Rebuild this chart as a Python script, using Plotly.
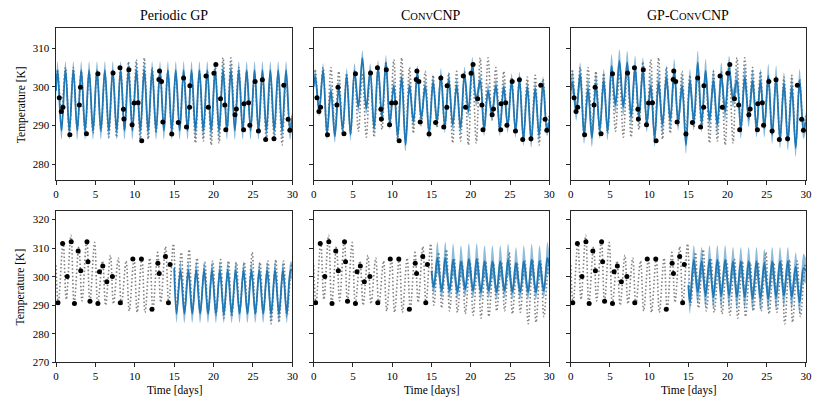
import plotly.graph_objects as go

# ---------------- data ----------------
n_days = 30
second_half_start = 15

# ---- top row: fully observed-context task ----
top_ctx_t = [0.42, 0.67, 0.88, 1.76, 2.96, 3.10, 3.86, 5.32, 7.24, 8.12, 8.56, 8.62, 9.25, 9.66, 9.92,
             10.42, 10.88, 13.06, 13.14, 13.39, 13.56, 14.69, 15.52, 16.19, 16.56, 16.99, 16.95, 19.04,
             19.33, 20.04, 20.29, 20.88, 21.42, 21.55, 22.72, 22.89, 23.81, 23.86, 24.44, 24.60, 25.27,
             25.69, 26.19, 26.61, 27.66, 28.91, 29.46, 29.68]
top_ctx_y = [297.2, 293.6, 294.7, 287.6, 295.3, 299.9, 287.9, 303.4, 303.6, 304.9, 294.2, 291.7, 304.4,
             290.2, 295.8, 295.9, 286.1, 301.9, 304.1, 301.4, 290.9, 287.8, 290.8, 302.3, 289.6, 300.3,
             294.7, 302.8, 294.7, 303.5, 305.8, 296.9, 295.3, 288.9, 292.8, 294.3, 288.9, 295.6, 295.9,
             290.1, 301.4, 288.6, 301.8, 286.4, 286.6, 300.4, 291.6, 288.8]

# truth: daily maxima (at day+0.2) and minima (at day+0.7)
top_truth_start, top_truth_end = 300.0, 293.0
top_truth_peaks = [304.5, 305.0, 305.0, 304.0, 303.5, 304.0, 303.5, 304.0, 305.0, 306.5, 307.0, 307.5,
                   305.0, 304.5, 304.0, 303.0, 303.0, 303.5, 304.0, 304.0, 306.0, 307.5, 307.5, 305.0,
                   304.0, 302.5, 302.5, 302.5, 303.0, 302.0]
top_truth_troughs = [293.5, 287.5, 289.0, 288.0, 288.0, 288.5, 287.0, 287.0, 289.0, 289.5, 286.0, 286.5,
                     288.0, 290.0, 287.5, 289.5, 289.0, 285.5, 286.0, 285.0, 285.5, 288.5, 291.5, 288.5,
                     290.0, 288.5, 286.3, 286.5, 285.0, 288.5]

# Periodic GP (top)
pgp_top_start, pgp_top_end = 299.0, 292.0
pgp_top_peaks = [304.3, 304.3, 304.3, 304.3, 304.3, 304.3, 304.3, 304.3, 304.3, 304.3, 304.3, 304.3,
                 304.3, 304.3, 304.3, 304.3, 304.3, 304.3, 304.3, 304.3, 304.3, 304.3, 304.3, 304.3,
                 304.3, 304.3, 304.3, 304.3, 304.3, 304.3]
pgp_top_troughs = [288.7, 288.7, 288.7, 288.7, 288.7, 288.7, 288.7, 288.7, 288.7, 288.7, 288.7, 288.7,
                   288.7, 288.7, 288.7, 288.7, 288.7, 288.7, 288.7, 288.7, 288.7, 288.7, 288.7, 288.7,
                   288.7, 288.7, 288.7, 288.7, 288.7, 288.7]
pgp_top_std = (2.3, 2.3)

# ConvCNP (top)
cnp_top_start, cnp_top_end = 300.3, 291.0
cnp_top_peaks = [302.7, 304.2, 299.0, 299.7, 302.9, 304.2, 307.5, 304.2, 305.0, 306.3, 300.3, 302.5,
                 300.3, 303.7, 300.2, 301.2, 302.9, 302.0, 300.3, 303.3, 305.8, 301.6, 299.0, 300.3,
                 300.0, 301.6, 302.0, 300.0, 299.5, 300.8]
cnp_top_troughs = [294.0, 288.0, 287.2, 288.9, 287.6, 294.8, 294.4, 289.3, 292.3, 290.6, 287.2, 285.0,
                   291.0, 291.9, 288.0, 291.0, 289.7, 290.2, 289.3, 293.6, 296.5, 288.9, 292.7, 288.9,
                   289.7, 288.5, 286.4, 285.9, 287.6, 288.9]
cnp_top_std = (1.9, 1.6)

# GP-ConvCNP (top)
gpc_top_start, gpc_top_end = 299.0, 291.0
gpc_top_peaks = [301.2, 303.3, 299.5, 300.8, 301.6, 305.4, 306.7, 306.3, 305.0, 304.6, 300.3, 301.2,
                 302.5, 304.2, 300.3, 301.6, 306.3, 304.2, 301.6, 303.3, 305.0, 301.6, 302.5, 301.6,
                 301.6, 302.9, 302.5, 300.8, 300.0, 301.6]
gpc_top_troughs = [293.6, 287.6, 286.8, 288.9, 288.5, 295.3, 294.8, 292.3, 292.3, 290.6, 286.8, 290.2,
                   291.4, 291.0, 285.0, 291.0, 290.6, 291.4, 290.2, 293.6, 297.0, 288.9, 291.9, 289.3,
                   289.3, 287.6, 286.4, 285.9, 284.2, 288.9]
gpc_top_std = (3.0, 2.3)

# ---- bottom row: extrapolation task (context only on first 15 days) ----
bot_ctx_t = [0.25, 0.84, 1.42, 1.93, 2.34, 2.81, 3.14, 3.93, 4.06, 4.31, 5.32, 5.52, 5.94, 6.45, 7.16,
             8.16, 9.75, 10.84, 12.18, 12.93, 13.10, 13.89, 14.27, 14.48]
bot_ctx_y = [290.9, 311.6, 300.1, 312.2, 290.6, 309.0, 302.1, 312.2, 305.2, 291.4, 290.6, 301.7, 303.7,
             298.2, 300.1, 290.9, 306.2, 306.2, 288.6, 304.7, 301.1, 307.1, 290.9, 304.3]

# truth: daily minima (at day+0.3) and maxima (at day+0.9)
bot_truth_start, bot_truth_end = 304.0, 303.0
bot_truth_troughs = [290.5, 292.0, 290.3, 291.5, 291.0, 290.3, 290.0, 290.5, 290.0, 288.0, 287.5, 287.5,
                     288.5, 291.0, 290.5, 290.0, 289.0, 288.0, 287.5, 287.0, 286.5, 285.5, 286.0, 288.0,
                     288.0, 287.0, 287.5, 283.5, 284.0, 286.0]
bot_truth_peaks = [312.0, 314.5, 310.5, 313.0, 312.0, 305.5, 307.5, 306.5, 305.5, 306.5, 306.5, 306.5,
                   308.5, 310.5, 311.5, 308.5, 309.5, 306.5, 305.0, 305.5, 306.0, 305.5, 305.0, 305.0,
                   308.5, 305.0, 305.5, 306.0, 305.5, 304.5]

# Periodic GP (bottom, days 15-30): minima at day+0.3, maxima at day+0.8
pgp_bot_start, pgp_bot_end = 303.0, 302.0
pgp_bot_troughs = [287.0, 287.0, 287.0, 287.0, 287.0, 287.0, 287.0, 287.0, 287.0, 287.0, 287.0, 287.0,
                   287.0, 287.0, 287.0]
pgp_bot_peaks = [302.3, 302.3, 302.3, 302.3, 302.3, 302.3, 302.3, 302.3, 302.3, 302.3, 302.3, 302.3,
                 302.3, 302.3, 302.3]
pgp_bot_std = (3.1, 3.1)

# ConvCNP (bottom): minima at day+0.3, maxima at day+0.75
cnp_bot_start, cnp_bot_end = 302.0, 304.0
cnp_bot_troughs = [296.2, 295.0, 295.0, 294.5, 295.5, 295.0, 294.5, 295.0, 294.5, 295.0, 294.5, 294.5,
                   294.5, 294.5, 295.0]
cnp_bot_peaks = [306.6, 306.6, 306.0, 305.4, 306.2, 306.2, 305.4, 305.4, 305.4, 306.0, 304.8, 305.4,
                 306.0, 305.4, 306.6]
cnp_bot_std = (5.5, 2.5)

# GP-ConvCNP (bottom): minima at day+0.2, maxima at day+0.7
gpc_bot_start, gpc_bot_end = 297.0, 302.0
gpc_bot_troughs = [291.0, 294.5, 293.3, 292.8, 293.3, 293.3, 292.8, 292.8, 292.2, 292.2, 292.2, 292.8,
                   293.3, 292.8, 291.0]
gpc_bot_peaks = [306.0, 305.4, 306.0, 306.0, 306.0, 305.4, 305.4, 305.4, 305.4, 304.8, 305.4, 305.4,
                 305.4, 303.5, 303.0]
gpc_bot_std = (5.0, 4.0)

titles = ["Periodic GP",
          "C<span style='font-size:10.5px'>ONV</span>CNP",
          "GP-C<span style='font-size:10.5px'>ONV</span>CNP"]
x_ticks = [0, 5, 10, 15, 20, 25, 30]
top_y_ticks = [280, 290, 300, 310]
bot_y_ticks = [270, 280, 290, 300, 310, 320]
top_y_range = [275.9, 315.1]
bot_y_range = [270.0, 323.0]

# ---------------- helpers ----------------
def daily_series(first_day, start_v, end_v, ph1, v1, ph2, v2, std=None):
    t = [float(first_day)]
    y = [start_v]
    s = []
    if std is not None:
        s = [0.5 * (std[0] + std[1])]
    for i, (a, b) in enumerate(zip(v1, v2)):
        d = first_day + i
        t += [d + ph1, d + ph2]
        y += [a, b]
        if std is not None:
            s += [std[0], std[1]]
    t.append(float(n_days))
    y.append(end_v)
    if std is not None:
        s.append(0.5 * (std[0] + std[1]))
    return t, y, s


truth_top = daily_series(0, top_truth_start, top_truth_end, 0.2, top_truth_peaks, 0.7, top_truth_troughs)
truth_bot = daily_series(0, bot_truth_start, bot_truth_end, 0.3, bot_truth_troughs, 0.9, bot_truth_peaks)

preds_top = [
    daily_series(0, pgp_top_start, pgp_top_end, 0.2, pgp_top_peaks, 0.7, pgp_top_troughs, pgp_top_std),
    daily_series(0, cnp_top_start, cnp_top_end, 0.2, cnp_top_peaks, 0.7, cnp_top_troughs, cnp_top_std),
    daily_series(0, gpc_top_start, gpc_top_end, 0.2, gpc_top_peaks, 0.7, gpc_top_troughs, gpc_top_std),
]
preds_bot = [
    daily_series(second_half_start, pgp_bot_start, pgp_bot_end, 0.3, pgp_bot_troughs, 0.8, pgp_bot_peaks,
                 (pgp_bot_std[1], pgp_bot_std[0])),
    daily_series(second_half_start, cnp_bot_start, cnp_bot_end, 0.3, cnp_bot_troughs, 0.75, cnp_bot_peaks,
                 (cnp_bot_std[1], cnp_bot_std[0])),
    daily_series(second_half_start, gpc_bot_start, gpc_bot_end, 0.2, gpc_bot_troughs, 0.7, gpc_bot_peaks,
                 (gpc_bot_std[1], gpc_bot_std[0])),
]

# ---------------- figure ----------------
# the page body has an 8px margin, so the figure is placed at (8, 8) inside the 830x415 window
OFF = 8
W, H = 830 - OFF, 415 - OFF
col_px = [(53.5, 292.5), (314.0, 552.3), (574.0, 811.7)]   # window pixel coordinates
row_px = [(28.7, 182.7), (214.0, 367.7)]

def fx(px):
    return (px - OFF) / W

def fy(py):
    return 1 - (py - OFF) / H

FONT = "Liberation Serif"
BLUE = "#1f77b4"
BAND = "rgba(31,119,180,0.5)"
GRAY = "#808080"

fig = go.Figure()
layout = dict(width=W, height=H, margin=dict(l=0, r=0, t=0, b=0),
              plot_bgcolor="white", paper_bgcolor="white", showlegend=False,
              font=dict(family=FONT, size=11, color="black"))
annotations = []

for r in range(2):
    truth = truth_top if r == 0 else truth_bot
    preds = preds_top if r == 0 else preds_bot
    ctx_t = top_ctx_t if r == 0 else bot_ctx_t
    ctx_y = top_ctx_y if r == 0 else bot_ctx_y
    for c in range(3):
        k = r * 3 + c + 1
        xa = "x" if k == 1 else f"x{k}"
        ya = "y" if k == 1 else f"y{k}"
        t, m, s = preds[c]
        upper = [a + b for a, b in zip(m, s)]
        lower = [a - b for a, b in zip(m, s)]
        # truth
        fig.add_trace(go.Scatter(x=truth[0], y=truth[1], mode="lines", xaxis=xa, yaxis=ya,
                                 line=dict(color=GRAY, width=1.6, dash="1.5px,2.2px", shape="spline"),
                                 hoverinfo="skip"))
        # band
        fig.add_trace(go.Scatter(x=t, y=upper, mode="lines", xaxis=xa, yaxis=ya,
                                 line=dict(width=0, shape="spline"), hoverinfo="skip"))
        fig.add_trace(go.Scatter(x=t, y=lower, mode="lines", xaxis=xa, yaxis=ya, fill="tonexty",
                                 fillcolor=BAND, line=dict(width=0, shape="spline"), hoverinfo="skip"))
        # mean
        fig.add_trace(go.Scatter(x=t, y=m, mode="lines", xaxis=xa, yaxis=ya,
                                 line=dict(color=BLUE, width=1.8, shape="spline")))
        # context
        fig.add_trace(go.Scatter(x=ctx_t, y=ctx_y, mode="markers", xaxis=xa, yaxis=ya,
                                 marker=dict(color="black", size=5), cliponaxis=False))

        x0, x1 = col_px[c]
        y0, y1 = row_px[r]
        axis_common = dict(showline=True, mirror=True, linecolor="#262626", linewidth=1,
                           ticks="outside", ticklen=3.5, tickwidth=0.8, tickcolor="#262626",
                           showgrid=False, zeroline=False, tickfont=dict(family=FONT, size=11))
        layout["xaxis" if k == 1 else f"xaxis{k}"] = dict(
            domain=[fx(x0), fx(x1)], anchor=ya, range=[0, 30], tickvals=x_ticks, **axis_common)
        layout["yaxis" if k == 1 else f"yaxis{k}"] = dict(
            domain=[fy(y1), fy(y0)], anchor=xa,
            range=top_y_range if r == 0 else bot_y_range,
            tickvals=top_y_ticks if r == 0 else bot_y_ticks,
            showticklabels=(c == 0), **axis_common)

        if r == 0:
            annotations.append(dict(text=titles[c], x=fx((x0 + x1) / 2), y=fy(y0),
                                    xref="paper", yref="paper", xanchor="center", yanchor="bottom",
                                    yshift=3, showarrow=False, font=dict(family=FONT, size=14)))
        else:
            annotations.append(dict(text="Time [days]", x=fx((x0 + x1) / 2), y=fy(396),
                                    xref="paper", yref="paper", xanchor="center", yanchor="middle",
                                    showarrow=False, font=dict(family=FONT, size=11.5)))
    yc = (row_px[r][0] + row_px[r][1]) / 2
    annotations.append(dict(text="Temperature [K]", x=fx(18), y=fy(yc), xref="paper", yref="paper",
                            xanchor="center", yanchor="middle", textangle=-90, showarrow=False,
                            font=dict(family=FONT, size=11.5)))

layout["annotations"] = annotations
fig.update_layout(**layout)
fig.write_html("out.html")
